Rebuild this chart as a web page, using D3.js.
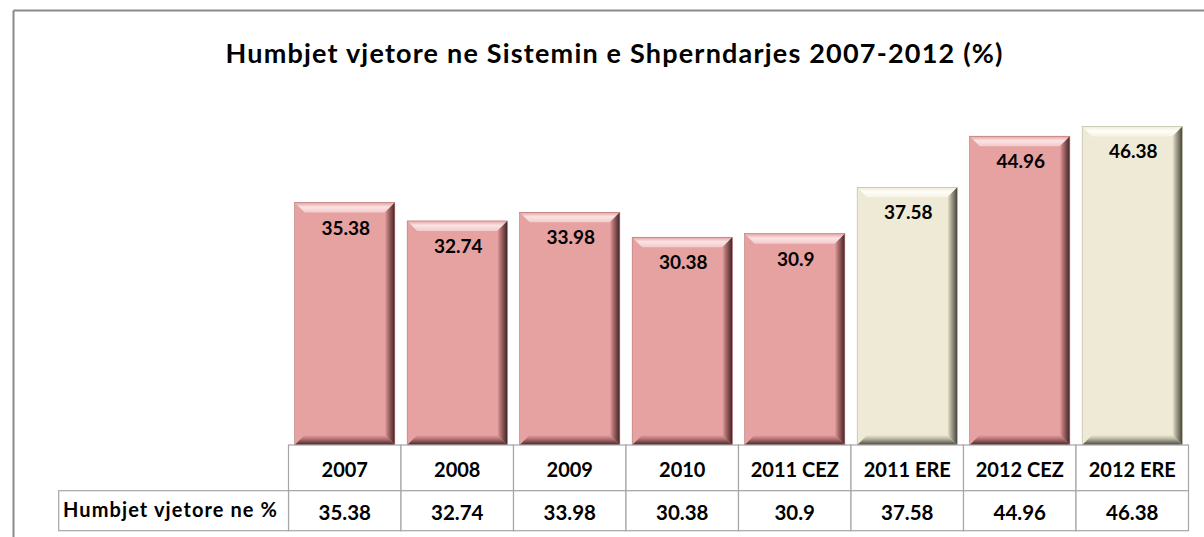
<!DOCTYPE html>
<html><head><meta charset="utf-8">
<script src="https://cdn.jsdelivr.net/npm/d3@7"></script>
<style>
html,body{margin:0;padding:0;background:#fff;}
svg{display:block;font-family:Lato,"Open Sans",sans-serif;}
</style></head>
<body><svg id="c" width="1204" height="537"></svg>
<script>
const title = "Humbjet vjetore ne Sistemin e Shperndarjes 2007-2012 (%)";
const categories = ["2007","2008","2009","2010","2011 CEZ","2011 ERE","2012 CEZ","2012 ERE"];
const values = [35.38, 32.74, 33.98, 30.38, 30.9, 37.58, 44.96, 46.38];
const valueLabels = ["35.38","32.74","33.98","30.38","30.9","37.58","44.96","46.38"];
const groups = ["CEZ","CEZ","CEZ","CEZ","CEZ","ERE","CEZ","ERE"];
const rowLabel = "Humbjet vjetore ne %";

const W = 1204, H = 537;
const svg = d3.select("#c");
const defs = svg.append("defs");

const tableLeft = 288.5, tableRight = 1188.5;
const tableTop = 445, rowMid = 490.7, tableBottom = 530.7;
const labelLeft = 58.7;

const x = d3.scaleBand().domain(categories).range([tableLeft, tableRight]).paddingInner(0.11).paddingOuter(0.055);
const xc = d3.scaleBand().domain(categories).range([tableLeft, tableRight]).padding(0);
const y = d3.scaleLinear().domain([0, 50]).range([447.8, 101.3]);

const palette = {
  CEZ: {base:"#E6A1A1", light:"#F3CACA", hi:"#FBE4E4", dark:"#3E2424", mid:"#B47272"},
  ERE: {base:"#EEEAD6", light:"#F6F3E6", hi:"#FFFFF8", dark:"#45433A", mid:"#B8B49E"}
};
function grad(id, x1,y1,x2,y2, stops){
  const g = defs.append("linearGradient").attr("id",id).attr("x1",x1).attr("y1",y1).attr("x2",x2).attr("y2",y2);
  stops.forEach(s=>g.append("stop").attr("offset",s[0]).attr("stop-color",s[1]));
}
Object.entries(palette).forEach(([k,p])=>{
  grad("top"+k,0,0,0,1,[[0,p.base],[0.45,p.hi],[1,p.light]]);
  grad("right"+k,0,0,1,0,[[0,p.base],[0.3,p.mid],[1,p.dark]]);
  grad("bottom"+k,0,0,0,1,[[0,p.base],[0.4,p.mid],[1,p.dark]]);
});

// outer border
svg.append("line").attr("x1",13.5).attr("y1",10.5).attr("x2",W).attr("y2",10.5).attr("stroke","#8a8a8a").attr("stroke-width",2);
svg.append("line").attr("x1",13.5).attr("y1",10.5).attr("x2",13.5).attr("y2",H).attr("stroke","#8a8a8a").attr("stroke-width",2);

// title
svg.append("text").attr("x",614).attr("y",62.5).attr("text-anchor","middle")
  .attr("font-size",27).attr("font-weight","bold").attr("fill","#000")
  .attr("textLength",777).attr("lengthAdjust","spacing").text(title);

// bars
const b = 10;
const bars = svg.append("g").selectAll("g").data(categories).join("g");
bars.each(function(c,i){
  const g = d3.select(this);
  const x0 = x(c), w = x.bandwidth(), y0 = y(values[i]), y1 = tableTop, k = groups[i], p = palette[k];
  const x1 = x0 + w;
  g.append("rect").attr("x",x0).attr("y",y0).attr("width",w).attr("height",y1-y0).attr("fill",p.base);
  g.append("polygon").attr("points",[[x0,y0],[x1,y0],[x1-b,y0+b],[x0+b,y0+b]].join(" ")).attr("fill",`url(#top${k})`);
  g.append("polygon").attr("points",[[x1,y0],[x1,y1],[x1-b,y1-b],[x1-b,y0+b]].join(" ")).attr("fill",`url(#right${k})`);
  g.append("polygon").attr("points",[[x0,y1],[x1,y1],[x1-b,y1-b],[x0+b,y1-b]].join(" ")).attr("fill",`url(#bottom${k})`);
  g.append("rect").attr("x",x0).attr("y",y0).attr("width",w).attr("height",y1-y0).attr("fill","none").attr("stroke",p.mid).attr("stroke-width",0.6);
  g.append("text").attr("x",x0+w/2+1).attr("y",y0+32).attr("text-anchor","middle")
    .attr("font-size",19).attr("font-weight","bold").attr("fill","#000").text(valueLabels[i]);
});

// table
const tbl = svg.append("g");
const stroke = "#a6a6a6";
tbl.selectAll("rect.h").data(categories).join("rect").attr("class","h")
  .attr("x",c=>xc(c)).attr("y",tableTop).attr("width",xc.bandwidth()).attr("height",rowMid-tableTop)
  .attr("fill","#fff").attr("stroke",stroke).attr("stroke-width",1.2);
tbl.selectAll("rect.v").data(categories).join("rect").attr("class","v")
  .attr("x",c=>xc(c)).attr("y",rowMid).attr("width",xc.bandwidth()).attr("height",tableBottom-rowMid)
  .attr("fill","#fff").attr("stroke",stroke).attr("stroke-width",1.2);
tbl.append("rect").attr("x",labelLeft).attr("y",rowMid).attr("width",tableLeft-labelLeft).attr("height",tableBottom-rowMid)
  .attr("fill","#fff").attr("stroke",stroke).attr("stroke-width",1.2);
tbl.selectAll("text.h").data(categories).join("text").attr("class","h")
  .attr("x",c=>xc(c)+xc.bandwidth()/2).attr("y",476.5).attr("text-anchor","middle")
  .attr("font-size",20).attr("font-weight","bold").attr("fill","#000").text(c=>c);
tbl.selectAll("text.v").data(valueLabels).join("text").attr("class","v")
  .attr("x",(d,i)=>xc(categories[i])+xc.bandwidth()/2).attr("y",519.5).attr("text-anchor","middle")
  .attr("font-size",20.5).attr("font-weight","bold").attr("fill","#000").text(d=>d);
tbl.append("text").attr("x",63).attr("y",517).attr("font-size",20).attr("font-weight","bold").attr("fill","#000")
  .attr("textLength",214).attr("lengthAdjust","spacing").text(rowLabel);
</script></body></html>
